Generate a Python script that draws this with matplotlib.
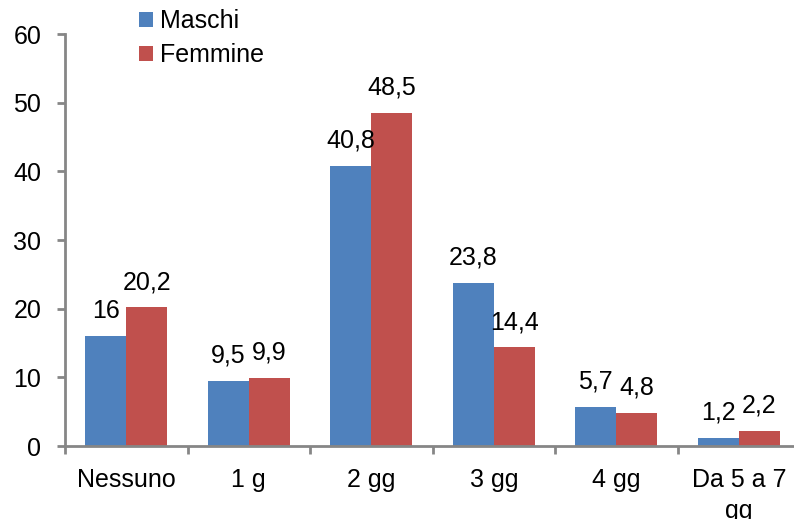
import matplotlib
matplotlib.use("Agg")
import matplotlib.pyplot as plt
from matplotlib.ticker import FixedLocator, NullFormatter

plt.rcParams['font.family'] = ['Liberation Sans', 'DejaVu Sans']

categories = ["Nessuno", "1 g", "2 gg", "3 gg", "4 gg", "Da 5 a 7\ngg"]
maschi = [16, 9.5, 40.8, 23.8, 5.7, 1.2]
femmine = [20.2, 9.9, 48.5, 14.4, 4.8, 2.2]
series_names = ["Maschi", "Femmine"]
yticks = [0, 10, 20, 30, 40, 50, 60]

blue = "#4F81BD"
red = "#C0504D"
axis_gray = "#868686"
FS = 18

fig = plt.figure(figsize=(7.94, 5.19), dpi=100)
ax = fig.add_axes([65 / 794, 73 / 519, 735 / 794, 412 / 519])

x = list(range(len(categories)))
w = 1 / 3
b1 = ax.bar([i - w / 2 for i in x], maschi, width=w, color=blue, label=series_names[0], zorder=2)
b2 = ax.bar([i + w / 2 for i in x], femmine, width=w, color=red, label=series_names[1], zorder=2)

def fmt(v):
    return f"{v:g}".replace(".", ",")

for bars, vals in ((b1, maschi), (b2, femmine)):
    for r, v in zip(bars, vals):
        ax.annotate(fmt(v), (r.get_x() + r.get_width() / 2, v),
                    xytext=(0, 13), textcoords="offset points",
                    ha="center", va="baseline", fontsize=FS)

ax.set_xlim(-0.5, len(categories) - 0.5)
ax.set_ylim(0, 60)
ax.set_yticks(yticks)
ax.set_yticklabels([str(t) for t in yticks])

# category boundaries carry the tick marks, centres carry the labels
ax.xaxis.set_major_locator(FixedLocator([i - 0.5 for i in range(len(categories) + 1)]))
ax.xaxis.set_major_formatter(NullFormatter())
ax.xaxis.set_minor_locator(FixedLocator(x))
ax.set_xticklabels(categories, minor=True, linespacing=1.35)

ax.tick_params(axis="x", which="major", length=6, width=2, color=axis_gray, direction="out")
ax.tick_params(axis="x", which="minor", length=0, pad=16, labelsize=FS)
ax.tick_params(axis="y", length=6, width=2, color=axis_gray, direction="out", pad=11, labelsize=FS)

for s in ("top", "right"):
    ax.spines[s].set_visible(False)
for s in ("left", "bottom"):
    ax.spines[s].set_color(axis_gray)
    ax.spines[s].set_linewidth(2)

fig.legend(handles=[b1, b2], labels=series_names, loc="upper left",
           bbox_to_anchor=(139 / 794, 1 - 9 / 519), frameon=False, fontsize=FS,
           handlelength=0.56, handleheight=0.56, handletextpad=0.3, labelspacing=0.4,
           borderpad=0, borderaxespad=0)

fig.savefig("out.png", dpi=100)
